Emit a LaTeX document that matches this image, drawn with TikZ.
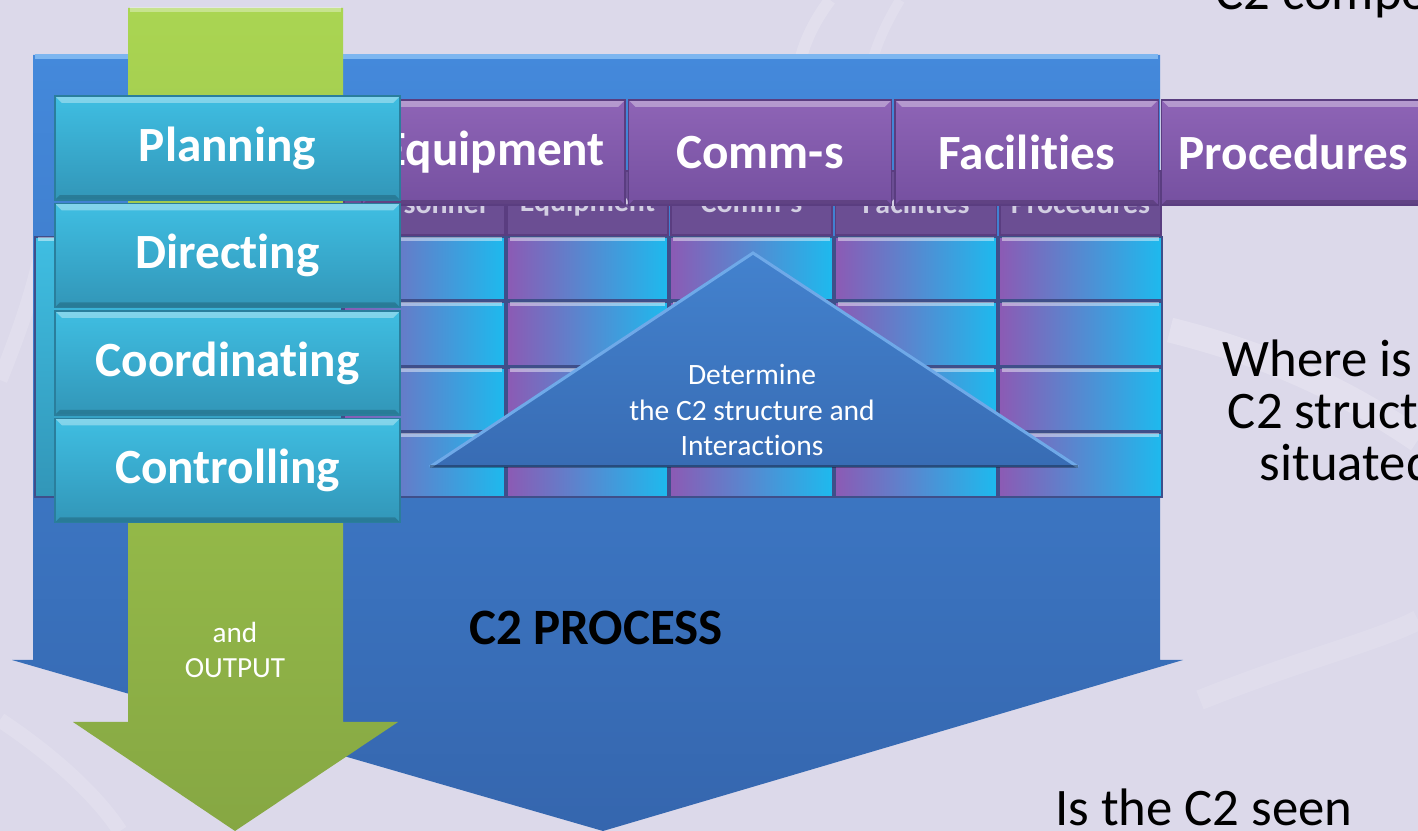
\documentclass[tikz,border=0pt]{standalone}
\usepackage{fontspec}
\setmainfont{Carlito}[Ligatures={CommonOff,ContextualOff}]
\usetikzlibrary{positioning,calc}

\definecolor{bgcol}{HTML}{DCD9EA}
\definecolor{bluetop}{HTML}{4489DB}
\definecolor{bluebot}{HTML}{3566AE}
\definecolor{bluehl}{HTML}{7DB6F0}
\definecolor{greentop}{HTML}{AAD552}
\definecolor{greenbot}{HTML}{86A743}
\definecolor{cyantop}{HTML}{3FBEE2}
\definecolor{cyanbot}{HTML}{3296B8}
\definecolor{cyanedge}{HTML}{2A7E9C}
\definecolor{purtop}{HTML}{8E64B6}
\definecolor{purbot}{HTML}{7550A0}
\definecolor{puredge}{HTML}{5A3D80}
\definecolor{hidpur}{HTML}{6B4E93}
\definecolor{hidtext}{HTML}{D2CEE2}
\definecolor{gridpur}{HTML}{8C5AB4}
\definecolor{gridcyan}{HTML}{1DBAEE}
\definecolor{gridline}{HTML}{3F4F8A}
\definecolor{tritop}{HTML}{4382CE}
\definecolor{tribot}{HTML}{386CB4}
\definecolor{triedge}{HTML}{6FA9E8}

\tikzset{
  bevel/.style={path picture={
      \fill[white,opacity=.35] (path picture bounding box.north west) -- (path picture bounding box.north east)
        -- ([shift={(-.07cm,-.07cm)}]path picture bounding box.north east) -- ([shift={(.07cm,-.07cm)}]path picture bounding box.north west) -- cycle;
      \fill[black,opacity=.18] (path picture bounding box.south west) -- (path picture bounding box.south east)
        -- ([shift={(-.05cm,.05cm)}]path picture bounding box.south east) -- ([shift={(.05cm,.05cm)}]path picture bounding box.south west) -- cycle;
  }},
  boxlabel/.style={font=\fontsize{14}{16}\selectfont\bfseries, text=white},
  funcbox/.style={draw=cyanedge, top color=cyantop, bottom color=cyanbot, minimum width=3.45cm, minimum height=1.04cm, inner sep=0pt, bevel, boxlabel},
  compbox/.style={draw=puredge, top color=purtop, bottom color=purbot, minimum width=2.63cm, minimum height=1.05cm, inner sep=0pt, bevel, boxlabel},
  hidbox/.style={draw=puredge, fill=hidpur, minimum width=1.61cm, minimum height=0.64cm, inner sep=0pt, text=hidtext, font=\fontsize{8.5}{10}\selectfont\bfseries},
  handtext/.style={font=\fontsize{15}{14.8}\selectfont, text=black}
}

\begin{document}
\begin{tikzpicture}[x=0.01cm, y=-0.01cm]

\useasboundingbox (0,0) rectangle (1418,831);
\clip (0,0) rectangle (1418,831);
\fill[bgcol] (0,0) rectangle (1418,831);

% faint background swooshes
\draw[white, opacity=.18, line width=0.12cm] (830,0) .. controls (800,40) and (790,80) .. (800,130);
\draw[white, opacity=.15, line width=0.10cm] (900,0) .. controls (870,50) and (860,90) .. (870,140);
\draw[white, opacity=.2, line width=0.25cm] (1170,330) .. controls (1250,350) and (1330,380) .. (1418,440);
\draw[white, opacity=.15, line width=0.15cm] (0,380) .. controls (20,330) and (30,300) .. (40,260);
\draw[white, opacity=.12, line width=0.2cm] (1200,700) .. controls (1300,660) and (1380,640) .. (1418,620);
\draw[white, opacity=.15, line width=0.15cm] (0,720) .. controls (60,760) and (100,800) .. (120,831);

% C2 process arrow
\shade[top color=bluetop, bottom color=bluebot] (33,55) -- (1160,55) -- (1160,660) -- (1183,660) -- (603,831) -- (12,660) -- (33,660) -- cycle;
\draw[bluehl, line width=0.05cm] (35,57) -- (1158,57);

% input/output arrow
\shade[top color=greentop, bottom color=greenbot] (128,8) -- (343,8) -- (343,722) -- (398,722) -- (235,831) -- (73,722) -- (128,722) -- cycle;
\draw[white, opacity=.35, line width=0.05cm] (130,10) -- (341,10);

% hidden header row
\foreach \cx/\nm/\txt in {424.5/hpers/Personnel, 587.5/hequip/Equipment, 751.5/hcomm/Comm-s, 916/hfacil/Facilities, 1080.5/hproc/Procedures}
  \node[hidbox] (\nm) at (\cx,203) {\txt};

% structure grid
\shade[top color=cyantop, bottom color=cyanbot, draw=gridline] (35,237) rectangle (342,497);
\draw[white, opacity=.45, line width=0.04cm] (38,239) -- (339,239);
\foreach \xa/\xb in {344/505, 507/668, 670/833, 835/997, 999/1162}
  \foreach \ya/\yb in {237/300, 302/366, 368/431, 433/497} {
    \shade[left color=gridpur, right color=gridcyan, draw=gridline] (\xa,\ya) rectangle (\xb,\yb);
    \draw[white, opacity=.45, line width=0.04cm] (\xa+3,\ya+2) -- (\xb-3,\ya+2);
  }

% determine structure triangle
\shade[top color=tritop, bottom color=tribot] (753,253) -- (1078,467) -- (430,467) -- cycle;
\draw[triedge, line width=0.03cm] (430,467) -- (753,253) -- (1078,467);
\draw[black, opacity=.3, line width=0.03cm] (430,467) -- (1078,467);
\node[text=white, align=center, font=\fontsize{8.4}{10}\selectfont] (determ) at (752,410) {Determine\\the C2 structure and\\Interactions};

% C2 components
\node[compbox] (equip) at (493.5,152.5) {Equipment};
\node[compbox, right=0.02cm of equip] (comms) {Comm-s};
\node[compbox, right=0.02cm of comms] (facil) {Facilities};
\node[compbox, right=0.02cm of facil] (proc) {Procedures};

% C2 functions
\node[funcbox] (plan) at (227.5,148) {Planning};
\node[funcbox, below=0.02cm of plan] (direct) {Directing};
\node[funcbox, below=0.02cm of direct] (coord) {Coordinating};
\node[funcbox, below=0.02cm of coord] (control) {Controlling};

% labels
\node[text=white, align=center, font=\fontsize{8.3}{10}\selectfont] (output) at (235,650) {and\\OUTPUT};
\node[font=\fontsize{14.5}{17}\selectfont\bfseries, text=black] (process) at (596,628) {C2 PROCESS};

% questions
\node[handtext, align=center] (where) at (1359,410) {Where is the\\C2 structure\\situated?};
\node[handtext, anchor=base west] (seen) at (1043,826) {Is the C2 seen};
\node[handtext, anchor=base west] (compo) at (1203,10) {C2 components};

\end{tikzpicture}
\end{document}
